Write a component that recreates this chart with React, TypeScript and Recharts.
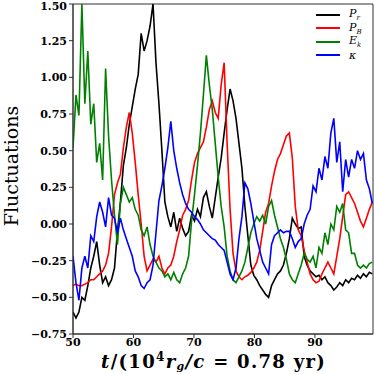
import { LineChart, Line, XAxis, YAxis, ReferenceArea } from "recharts";

// sample times (t / 10^4 r_g/c), evenly spaced
const times = Array.from({ length: 102 }, (_, i) => +(50 + i * 0.49).toFixed(2));

const pR = [
	-0.6, -0.64, -0.6, -0.5, -0.52, -0.42, -0.3, -0.22, -0.12, -0.28,
	-0.4, -0.36, -0.42, -0.38, -0.3, -0.05, 0.15, 0.4, 0.52, 0.68,
	0.8, 0.92, 1.02, 1.3, 1.18, 1.25, 1.35, 1.5, 1.1, 0.82,
	0.5, 0.15, 0.05, -0.02, 0.08, -0.05, 0.04, -0.03, -0.08, -0.05,
	0.06, 0.02, 0.1, 0.05, 0.18, 0.22, 0.12, 0.04, 0.18, 0.32,
	0.45, 0.62, 0.78, 0.92, 0.84, 0.72, 0.55, 0.38, 0.12, -0.08,
	-0.28, -0.35, -0.38, -0.42, -0.45, -0.48, -0.5, -0.42, -0.38, -0.34,
	-0.32, -0.28, -0.2, -0.1, 0.04, 0.0, -0.03, -0.02, -0.22, -0.28,
	-0.32, -0.34, -0.36, -0.35, -0.38, -0.36, -0.4, -0.42, -0.45, -0.43,
	-0.4, -0.42, -0.38, -0.4, -0.37, -0.38, -0.35, -0.37, -0.34, -0.36,
	-0.33, -0.34,
];

const pB = [
	-0.42, -0.41, -0.42, -0.42, -0.41, -0.4, -0.38, -0.38, -0.36, -0.34,
	-0.32, -0.28, -0.2, -0.02, 0.2, 0.28, 0.34, 0.52, 0.66, 0.76,
	0.62, 0.42, 0.2, 0.0, -0.22, -0.32, -0.28, -0.24, -0.26, -0.22,
	-0.3, -0.34, -0.3, -0.28, -0.22, -0.12, -0.04, 0.06, 0.1, 0.16,
	0.3, 0.42, 0.48, 0.52, 0.56, 0.66, 0.78, 0.84, 0.76, 0.72,
	0.95, 1.1, 0.55, 0.1, -0.2, -0.32, -0.36, -0.38, -0.36, -0.35,
	-0.33, -0.3, -0.26, -0.18, -0.05, 0.08, 0.14, 0.26, 0.36, 0.44,
	0.48, 0.54, 0.6, 0.62, 0.45, 0.12, -0.04, -0.08, -0.18, -0.26,
	-0.34, -0.38, -0.4, -0.39, -0.34, -0.3, -0.26, -0.3, -0.34, -0.22,
	-0.1, 0.05, 0.2, 0.22, 0.18, 0.14, 0.08, 0.02, -0.02, 0.04,
	0.1, 0.15,
];

const eK = [
	0.52, 0.88, 0.74, 1.5, 0.82, 1.18, 0.68, 0.82, 0.42, 0.55,
	0.3, 1.06, 0.6, 0.3, 0.06, -0.14, 0.14, 0.25, 0.2, 0.15,
	0.18, 0.1, 0.06, -0.04, -0.08, -0.02, -0.14, -0.22, -0.26, -0.3,
	-0.32, -0.36, -0.34, -0.38, -0.33, -0.38, -0.4, -0.34, -0.3, -0.22,
	0.02, 0.2, 0.4, 0.62, 0.88, 1.15, 0.95, 0.78, 0.55, 0.32,
	0.12, -0.02, -0.22, -0.32, -0.38, -0.4, -0.36, -0.32, -0.26, -0.16,
	-0.06, 0.0, 0.05, 0.02, 0.06, 0.0, 0.12, 0.16, 0.06, -0.02,
	-0.1, -0.16, -0.24, -0.34, -0.38, -0.4, -0.34, -0.28, -0.2, -0.24,
	-0.26, -0.22, -0.3, -0.16, -0.2, -0.06, -0.14, 0.0, -0.04, 0.12,
	0.08, 0.14, -0.04, -0.06, -0.2, -0.2, -0.28, -0.3, -0.28, -0.3,
	-0.27, -0.26,
];

const kappa = [
	-0.22, -0.4, -0.52, -0.3, -0.22, -0.3, -0.08, -0.12, 0.05, 0.15,
	0.08, -0.02, 0.18, 0.06, 0.04, -0.06, 0.04, -0.04, -0.1, -0.16,
	-0.22, -0.32, -0.36, -0.42, -0.44, -0.4, -0.38, -0.28, -0.06, 0.16,
	0.26, 0.38, 0.52, 0.7, 0.5, 0.38, 0.28, 0.2, 0.14, 0.1,
	0.08, 0.05, 0.03, 0.0, -0.04, -0.06, -0.08, -0.1, -0.11, -0.14,
	-0.16, -0.18, -0.26, -0.34, -0.38, -0.3, -0.1, 0.05, 0.28, 0.24,
	0.14, 0.02, -0.1, -0.18, -0.26, -0.3, -0.34, -0.14, -0.08, -0.06,
	-0.04, -0.06, -0.05, -0.05, -0.1, -0.16, -0.12, -0.1, 0.0, 0.06,
	0.1, 0.26, 0.22, 0.38, 0.3, 0.46, 0.38, 0.62, 0.72, 0.42,
	0.56, 0.22, 0.44, 0.32, 0.44, 0.38, 0.5, 0.44, 0.48, 0.3,
	0.24, 0.14,
];

const xTicks = [50, 60, 70, 80, 90];
const yTicks = [-0.75, -0.5, -0.25, 0, 0.25, 0.5, 0.75, 1, 1.25, 1.5];

const data = times.map((t, i) => ({
	t,
	pR: pR[i],
	pB: pB[i],
	eK: eK[i],
	kappa: kappa[i],
}));

const serif = "'DejaVu Serif', 'Liberation Serif', serif";

const legendItems = [
	{ color: "#000000", name: "P", sub: "r" },
	{ color: "#ff0000", name: "P", sub: "B" },
	{ color: "#008000", name: "E", sub: "k" },
	{ color: "#0000ff", name: "κ", sub: "" },
];

const fmtY = (v: number) => (v < 0 ? "\u2212" + Math.abs(v).toFixed(2) : v.toFixed(2));

function XLabel(props: any) {
	const vb = props.viewBox || { x: 73, y: 334, width: 300 };
	return (
		<text
			x={101}
			y={vb.y + 34}
			textAnchor="start"
			fontFamily={serif}
			fontWeight="bold"
			fontSize={18}
			letterSpacing={1.3}
			fill="#000"
		>
			<tspan fontStyle="italic">t</tspan>
			<tspan>/(10</tspan>
			<tspan dy={-7} fontSize={12}>4</tspan>
			<tspan dy={7} fontStyle="italic">r</tspan>
			<tspan dy={2} fontSize={11} fontStyle="italic">g</tspan>
			<tspan dy={-2} fontStyle="italic">/c</tspan>
			<tspan> = 0.78 yr)</tspan>
		</text>
	);
}

function YLabel() {
	return (
		<text
			x={18}
			y={166}
			transform="rotate(-90 18 166)"
			textAnchor="middle"
			fontFamily={serif}
			fontSize={19}
			fill="#000"
		>
			Fluctuations
		</text>
	);
}

export default function App() {
	const tickStyle = { fontFamily: serif, fontWeight: "bold" as const, fontSize: 11, fill: "#000" };
	return (
		<div style={{ position: "relative", width: 374, height: 374, background: "#fff" }}>
			<style>{"body{margin:0}"}</style>
			<LineChart
				width={374}
				height={374}
				data={data}
				margin={{ top: 4, right: 1, bottom: 0, left: 0 }}
			>
				<XAxis
					dataKey="t"
					type="number"
					domain={[50, 99.6]}
					ticks={xTicks}
					allowDataOverflow
					height={40}
					tick={tickStyle}
					tickSize={4}
					tickMargin={0}
					tickLine={{ stroke: "#333" }}
					axisLine={{ stroke: "#333" }}
					label={<XLabel />}
				/>
				<YAxis
					type="number"
					domain={[-0.75, 1.5]}
					ticks={yTicks}
					allowDataOverflow
					width={73}
					tick={tickStyle}
					tickSize={4}
					tickFormatter={fmtY}
					tickLine={{ stroke: "#333" }}
					axisLine={{ stroke: "#333" }}
					label={<YLabel />}
				/>
				<ReferenceArea
					x1={50}
					x2={99.6}
					y1={-0.75}
					y2={1.5}
					fill="none"
					stroke="#333"
					strokeWidth={1}
				/>
				<Line dataKey="pR" stroke="#000000" strokeWidth={1.6} dot={false} isAnimationActive={false} />
				<Line dataKey="pB" stroke="#ff0000" strokeWidth={1.6} dot={false} isAnimationActive={false} />
				<Line dataKey="eK" stroke="#008000" strokeWidth={1.6} dot={false} isAnimationActive={false} />
				<Line dataKey="kappa" stroke="#0000ff" strokeWidth={1.6} dot={false} isAnimationActive={false} />
			</LineChart>
			<div style={{ position: "absolute", left: 316, top: 8, fontFamily: serif, fontSize: 11 }}>
				{legendItems.map((it) => (
					<div key={it.color} style={{ display: "flex", alignItems: "center", height: 13.5 }}>
						<span style={{ display: "inline-block", width: 24, height: 2, background: it.color, marginRight: 9 }} />
						<span style={{ fontStyle: "italic" }}>
							{it.name}
							{it.sub && <sub style={{ fontSize: 7 }}>{it.sub}</sub>}
						</span>
					</div>
				))}
			</div>
		</div>
	);
}
